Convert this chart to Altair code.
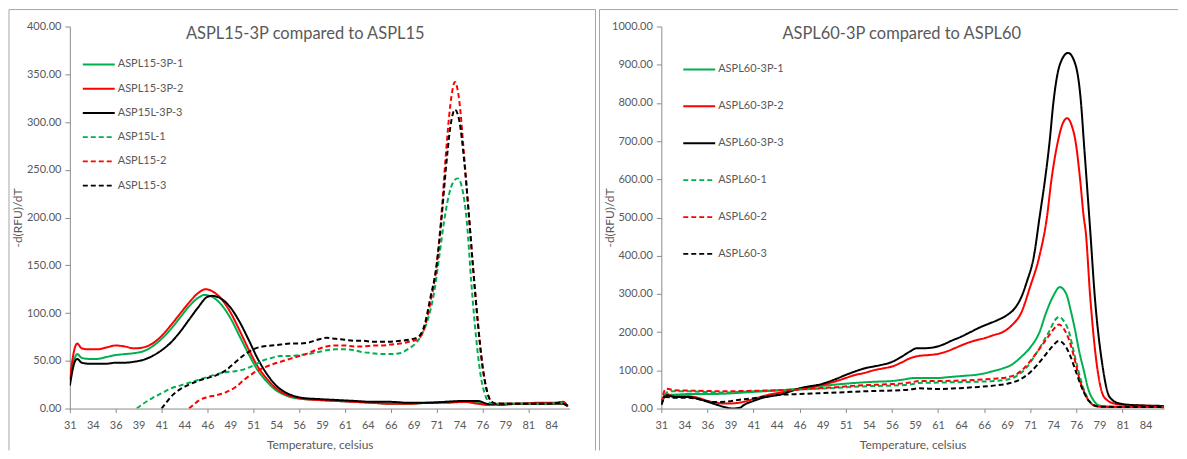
import altair as alt
import pandas as pd

FONT = "Lato"
GREY = "#595959"
AXIS_GREY = "#8C8C8C"

X_LABEL_VALUES = [31, 33.5, 36, 38.5, 41, 43.5, 46, 48.5, 51, 53.5, 56, 58.5, 61, 63.5,
                  66, 68.5, 71, 73.5, 76, 78.5, 81, 83.5]
LEFT_Y_TICKS = [0, 50, 100, 150, 200, 250, 300, 350, 400]
RIGHT_Y_TICKS = [0, 100, 200, 300, 400, 500, 600, 700, 800, 900, 1000]

COLORS = ["#00B050", "#FF0000", "#000000", "#00B050", "#FF0000", "#000000"]
DASHES = [[1, 0], [1, 0], [1, 0], [5, 3], [5, 3], [5, 3]]
WIDTHS = [2, 2, 2, 1.8, 1.8, 1.8]

# ---------------- left panel ----------------
LEFT_TITLE = "ASPL15-3P compared to ASPL15"
LEFT_NAMES = ["ASPL15-3P-1", "ASPL15-3P-2", "ASP15L-3P-3", "ASP15L-1", "ASPL15-2", "ASPL15-3"]

L1_T = [31, 31.5, 31.8, 32.3, 33, 34, 35, 36, 37, 38, 39, 40, 41, 42, 43, 44, 45, 45.7, 46.5, 47.5,
        48.5, 49.5, 50.5, 51.5, 52.5, 53.5, 54.5, 55.5, 56.5, 58, 60, 62, 64, 66, 68, 70, 72, 74,
        75.5, 76.5, 78, 80, 82, 84, 84.8, 85.3]
L1_V = [30, 52, 57, 53, 52, 52, 54, 56, 57, 58, 60, 65, 73, 83, 95, 107, 116, 119, 117, 109,
        95, 76, 57, 40, 28, 19, 14, 11, 10, 9, 8, 7, 6, 5, 5, 6, 7, 7,
        6, 4, 5, 5, 5, 6, 7, 2]

L2_T = [31, 31.5, 31.8, 32.3, 33, 34, 35, 36, 37, 38, 39, 40, 41, 42, 43, 44, 45, 45.8, 46.5, 47.5,
        48.5, 49.5, 50.5, 51.5, 52.5, 53.5, 54.5, 55.5, 56.5, 58, 60, 62, 64, 66, 68, 70, 72, 74,
        75.5, 76.5, 78, 80, 82, 84, 84.8, 85.3]
L2_V = [30, 62, 68, 63, 62, 62, 64, 66, 65, 63, 64, 68, 76, 87, 99, 111, 121, 125, 123, 115,
        101, 82, 62, 44, 31, 21, 15, 12, 10, 9, 8, 7, 6, 5, 5, 6, 6, 7,
        5, 4, 5, 5, 6, 6, 7, 2]

L3_T = [31, 31.5, 31.8, 32.3, 33, 34, 35, 36, 37, 38, 39, 40, 41, 42, 43, 44, 45, 46, 46.5, 47.5,
        48.5, 49.5, 50.5, 51.5, 52.5, 53.5, 54.5, 55.5, 56.5, 58, 60, 62, 64, 66, 68, 70, 72, 74,
        75.5, 76.5, 78, 80, 82, 84, 84.8, 85.3]
L3_V = [24, 48, 52, 48, 47, 47, 47, 48, 48, 49, 51, 55, 61, 69, 80, 93, 106, 117, 118, 115,
        106, 91, 72, 52, 36, 24, 17, 13, 11, 10, 9, 8, 7, 7, 6, 6, 7, 8,
        8, 5, 4, 5, 5, 5, 5, 3]

L4_T = [38.3, 39, 40, 41, 42, 43, 44, 45, 46, 47, 48, 49, 50, 51, 52, 53, 54, 55, 56, 57, 58, 59,
        60, 61, 62, 63, 64, 65, 66, 67, 68, 68.7, 69.3, 70, 70.7, 71.3, 71.8, 72.3, 72.8, 73.3,
        73.8, 74.3, 74.8, 75.3, 75.8, 76.3, 76.8, 77.5, 79, 81, 83, 84.5, 85.2]
L4_V = [0, 5, 11, 16, 21, 24, 27, 30, 33, 36, 38, 39, 41, 45, 50, 53, 55, 55, 56, 57, 59, 61,
        62, 62, 61, 59, 58, 57, 57, 58, 63, 68, 76, 92, 120, 160, 195, 222, 237, 241,
        230, 195, 130, 75, 35, 14, 6, 5, 5, 5, 5, 6, 3]

L5_T = [44, 44.5, 45, 46, 47, 48, 49, 50, 51, 52, 53, 54, 55, 56, 57, 58, 59, 60, 61, 62, 63, 64,
        65, 66, 67, 68, 69, 69.7, 70.3, 71, 71.5, 72, 72.5, 73, 73.5, 74, 74.5, 75, 75.5, 76,
        76.5, 77, 77.5, 79, 81, 83, 84.5, 85.2]
L5_V = [0, 4, 8, 12, 14, 17, 22, 30, 37, 42, 46, 49, 52, 55, 58, 62, 65, 66, 66, 65, 65, 66,
        66, 67, 68, 70, 73, 85, 110, 150, 200, 265, 318, 342, 320, 265, 205, 145, 90, 45,
        18, 7, 5, 5, 5, 5, 6, 3]

L6_T = [41, 41.5, 42, 43, 44, 45, 46, 47, 48, 49, 50, 51, 52, 53, 54, 55, 56, 57, 58, 59, 60, 61,
        62, 63, 64, 65, 66, 67, 68, 69, 69.7, 70.3, 71, 71.5, 72, 72.5, 73, 73.5, 74, 74.5, 75,
        75.5, 76, 76.5, 77, 77.5, 79, 81, 83, 84.5, 85.2]
L6_V = [0, 6, 12, 20, 25, 29, 32, 35, 40, 48, 56, 62, 65, 66, 67, 68, 68, 69, 72, 74, 73, 72,
        71, 71, 70, 70, 70, 71, 72, 75, 88, 115, 150, 195, 250, 295, 313, 300, 260, 205, 145,
        90, 45, 18, 7, 5, 5, 5, 5, 6, 3]

# ---------------- right panel ----------------
RIGHT_TITLE = "ASPL60-3P compared to ASPL60"
RIGHT_NAMES = ["ASPL60-3P-1", "ASPL60-3P-2", "ASPL60-3P-3", "ASPL60-1", "ASPL60-2", "ASPL60-3"]

R1_T = [31, 31.5, 32, 33, 34, 35, 36, 38, 40, 42, 44, 46, 48, 50, 52, 54, 56, 57, 58.5, 60, 61,
        62, 63, 64, 65, 66, 67, 68, 69, 70, 71, 72, 72.7, 73.5, 74.2, 74.9, 75.4, 75.9, 76.3,
        76.8, 77.3, 77.9, 78.5, 80, 82, 84, 85.2, 85.6]
R1_V = [15, 38, 36, 37, 38, 38, 38, 39, 42, 45, 48, 52, 58, 63, 67, 70, 72, 75, 80, 80, 80,
        82, 84, 86, 88, 92, 98, 105, 115, 135, 160, 200, 250, 295, 318, 300, 255, 200, 150,
        100, 50, 20, 8, 5, 5, 5, 6, 2]

R2_T = [31, 31.5, 32.5, 34, 35, 36, 37, 38, 39, 40, 41, 42, 43, 44, 45, 46, 47, 48, 49, 50, 51,
        52, 53, 54, 55, 56, 57, 58, 59, 60, 61, 62, 63, 64, 65, 66, 67, 68, 69, 70, 71, 72,
        72.8, 73.3, 74, 74.5, 75, 75.5, 75.9, 76.4, 76.8, 77, 77.5, 78.2, 79, 80.1, 81, 84, 85.6]
R2_V = [15, 37, 32, 32, 28, 20, 15, 13, 14, 18, 25, 32, 38, 42, 47, 51, 55, 60, 65, 72, 80,
        88, 93, 100, 105, 110, 120, 132, 138, 140, 143, 150, 160, 170, 178, 184, 192, 200, 218, 250, 320, 400,
        500, 600, 700, 745, 760, 740, 700, 600, 500, 465, 291, 117, 30, 13, 10, 7, 5]

R3_T = [31, 31.5, 32.5, 34, 35, 36, 37, 38, 38.7, 39.5, 40, 41, 42, 43, 44, 45, 46, 47, 48, 49,
        50, 51, 52, 53, 54, 55, 56, 57, 58, 58.7, 59.5, 60.5, 61.5, 62.5, 63.5, 64.5, 65.5,
        66.5, 67.5, 68.5, 69.3, 70, 70.6, 71.4, 72, 72.6, 73.1, 73.5, 74.2, 75.1, 75.9, 76.5,
        76.8, 77.1, 77.5, 78, 78.8, 79.6, 80.7, 83, 85, 85.6]
R3_V = [10, 35, 30, 30, 25, 18, 10, 3, 0, 2, 10, 20, 28, 33, 37, 45, 53, 58, 62, 69,
        78, 88, 97, 105, 110, 115, 122, 135, 150, 158, 158, 160, 167, 178, 188, 200, 212,
        222, 232, 245, 262, 290, 330, 400, 500, 600, 700, 800, 900, 931, 900, 800,
        700, 600, 465, 291, 117, 30, 13, 8, 7, 5]

R4_T = [31, 31.5, 32, 34, 36, 38, 40, 42, 44, 46, 48, 50, 52, 54, 56, 58, 59, 61, 63, 65, 67,
        68.5, 69.5, 70.5, 71.8, 73, 73.8, 74.1, 74.6, 75.2, 75.7, 76.2, 76.8, 77.4, 78, 79, 82,
        85, 85.6]
R4_V = [15, 40, 45, 45, 43, 42, 44, 46, 48, 50, 52, 54, 57, 59, 60, 63, 67, 68, 69, 70, 72,
        76, 85, 105, 150, 200, 235, 240, 230, 200, 150, 100, 50, 20, 8, 5, 5,
        5, 2]

R5_T = [31, 31.5, 32.5, 34, 36, 38, 40, 42, 44, 46, 48, 50, 52, 54, 56, 58, 59, 61, 63, 65, 67,
        68.5, 69.5, 70.5, 71.8, 73, 73.8, 74.1, 74.6, 75.2, 75.8, 76.3, 76.9, 77.5, 78.2, 79,
        82, 85, 85.6]
R5_V = [15, 52, 48, 47, 46, 45, 46, 47, 48, 50, 53, 56, 60, 62, 64, 68, 72, 72, 73, 75, 78,
        82, 90, 110, 150, 190, 215, 220, 210, 180, 130, 80, 40, 15, 6, 4,
        4, 4, 2]

R6_T = [31, 31.5, 32.5, 34, 35.5, 36.5, 38, 39.5, 41, 42.5, 44, 46, 48, 50, 52, 54, 56, 58, 59,
        60, 61, 63, 65, 67, 68.5, 69.8, 71, 72.3, 73.3, 74.1, 74.6, 75.3, 75.9, 76.5, 77.2,
        77.8, 78.5, 82, 85, 85.6]
R6_V = [10, 30, 28, 28, 22, 17, 18, 23, 27, 32, 36, 38, 40, 42, 44, 46, 47, 50, 53,
        52, 51, 53, 56, 60, 65, 75, 95, 130, 160, 177, 170, 140, 100, 60, 25,
        10, 5, 4, 4, 2]

PLOT_H = 383


def panel(names, temps, vals, y_ticks, y_max, width, title_text, title_x,
          leg_x0, leg_x1, leg_tx, leg_y0, leg_dy, left_edge, right_edge, draw_right):
    rows = []
    for name, ts, vs in zip(names, temps, vals):
        for t, v in zip(ts, vs):
            rows.append({"series": name, "T": t, "V": v})
    df = pd.DataFrame(rows)

    x = alt.X("T:Q",
              scale=alt.Scale(domain=[31, 85.5], nice=False, zero=False),
              axis=alt.Axis(values=X_LABEL_VALUES, labelExpr="round(datum.value)",
                            title="Temperature, celsius", grid=False,
                            domainColor=AXIS_GREY, tickColor=AXIS_GREY, tickSize=4,
                            tickOpacity={"condition": {"test": "datum.value % 5 == 1", "value": 1},
                                         "value": 0},
                            labelPadding=7, labelColor=GREY, labelFontSize=11, labelFont=FONT,
                            labelFlush=False, labelOverlap=False,
                            titleFont=FONT, titleFontSize=12, titleColor=GREY,
                            titleFontWeight="normal", titleY=36, titleBaseline="middle"))
    y = alt.Y("V:Q",
              scale=alt.Scale(domain=[0, y_max], nice=False),
              axis=alt.Axis(values=y_ticks, format=".2f", title="-d(RFU)/dT", grid=False,
                            domainColor=AXIS_GREY, tickColor=AXIS_GREY, tickSize=5,
                            labelPadding=4, labelColor=GREY, labelFontSize=11, labelFont=FONT,
                            labelFlush=False, labelOverlap=False,
                            titleFont=FONT, titleFontSize=12, titleColor=GREY,
                            titleFontWeight="normal", titleX=-52, titleBaseline="middle"))

    lines = alt.Chart(df).mark_line(interpolate="monotone", clip=True).encode(
        x=x, y=y,
        color=alt.Color("series:N", scale=alt.Scale(domain=names, range=COLORS), legend=None),
        strokeDash=alt.StrokeDash("series:N", scale=alt.Scale(domain=names, range=DASHES), legend=None),
        strokeWidth=alt.StrokeWidth("series:N", scale=alt.Scale(domain=names, range=WIDTHS), legend=None),
    )

    layers = [lines]
    title = alt.Chart(pd.DataFrame({"t": [title_text]})).mark_text(
        font=FONT, fontSize=16.5, color=GREY, align="center", baseline="middle"
    ).encode(text="t:N", x=alt.value(title_x), y=alt.value(8))
    layers.append(title)

    for i, name in enumerate(names):
        one = pd.DataFrame({"name": [name]})
        yy = leg_y0 + i * leg_dy
        layers.append(alt.Chart(one).mark_rule(color=COLORS[i], strokeDash=DASHES[i],
                                               strokeWidth=WIDTHS[i]).encode(
            x=alt.value(leg_x0), x2=alt.value(leg_x1), y=alt.value(yy)))
        layers.append(alt.Chart(one).mark_text(font=FONT, fontSize=11, color=GREY,
                                               align="left", baseline="middle").encode(
            text="name:N", x=alt.value(leg_tx), y=alt.value(yy)))

    dummy = pd.DataFrame({"k": [0]})
    border = dict(color="#A6A6A6", strokeWidth=1)
    layers.append(alt.Chart(dummy).mark_rule(**border).encode(
        x=alt.value(left_edge), y=alt.value(-17), y2=alt.value(425)))
    layers.append(alt.Chart(dummy).mark_rule(**border).encode(
        x=alt.value(left_edge), x2=alt.value(right_edge), y=alt.value(-17)))
    if draw_right:
        layers.append(alt.Chart(dummy).mark_rule(**border).encode(
            x=alt.value(right_edge), y=alt.value(-17), y2=alt.value(425)))

    return alt.layer(*layers).properties(width=width, height=PLOT_H)


left = panel(LEFT_NAMES, [L1_T, L2_T, L3_T, L4_T, L5_T, L6_T],
             [L1_V, L2_V, L3_V, L4_V, L5_V, L6_V], LEFT_Y_TICKS, 400, 501,
             LEFT_TITLE, 236, 13, 45, 48, 38, 24.3, -61, 527, True)
right = panel(RIGHT_NAMES, [R1_T, R2_T, R3_T, R4_T, R5_T, R6_T],
              [R1_V, R2_V, R3_V, R4_V, R5_V, R6_V], RIGHT_Y_TICKS, 1000, 504,
              RIGHT_TITLE, 241, 22, 54, 57, 43, 37, -62, 518, False)

chart = alt.hconcat(left, right, spacing=2, padding=0).configure_view(stroke=None)

chart.save("out.html", embed_options={"renderer": "svg", "actions": False})
